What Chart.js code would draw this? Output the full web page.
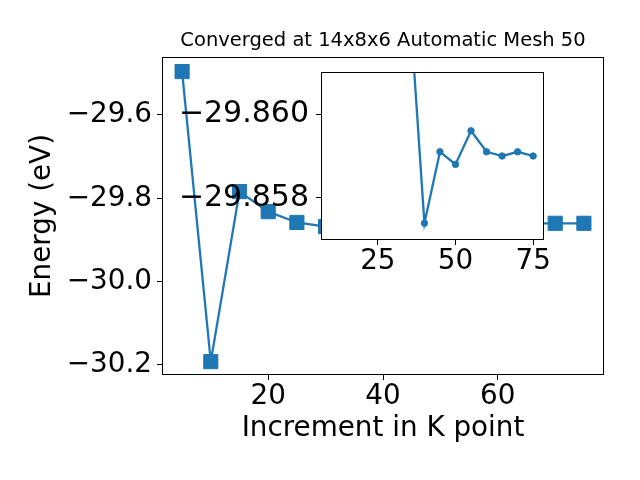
<!DOCTYPE html>
<html>
<head>
<meta charset="utf-8">
<script src="https://cdn.jsdelivr.net/npm/chart.js@4.4.1/dist/chart.umd.min.js"></script>
<style>
  body { margin: 0; background: #fff; }
  #wrap { position: relative; width: 640px; height: 480px; }
  canvas { position: absolute; left: 0; top: 0; }
  #insetChart { pointer-events: none; }
</style>
</head>
<body>
<div id="wrap">
  <canvas id="mainChart" width="640" height="480"></canvas>
  <canvas id="insetChart" width="640" height="480"></canvas>
</div>
<script>
// main series: energy per k-point increment
const kPoints = [5, 10, 15, 20, 25, 30, 35, 40, 45, 50, 55, 60, 65, 70, 75];
const energies = [-29.496, -30.192, -29.784, -29.832, -29.858, -29.868, -29.862,
                  -29.858, -29.859, -29.859, -29.860, -29.859, -29.860, -29.860, -29.860];

// zoomed inset series
const insetK = [35, 40, 45, 50, 55, 60, 65, 70, 75];
const insetEnergies = [-29.8629, -29.8574, -29.8591, -29.8588, -29.8596,
                       -29.8591, -29.8590, -29.8591, -29.8590];

// tick values
const mainXTicks = [20, 40, 60];
const mainYTicks = [-29.6, -29.8, -30.0, -30.2];
const insetXTicks = [25, 50, 75];
const insetYTicks = [-29.860, -29.858];

const blue = '#1f77b4';
const font = 'DejaVu Sans';
const minus = s => s.replace('-', '\u2212');

// box round the plot area, like matplotlib spines
const framePlugin = {
    id: 'frame',
    beforeDraw(chart, args, opts) {
        if (!opts.fill) return;
        const a = chart.chartArea;
        chart.ctx.save();
        chart.ctx.fillStyle = opts.fill;
        chart.ctx.fillRect(a.left, a.top, a.right - a.left, a.bottom - a.top);
        chart.ctx.restore();
    },
    afterDatasetsDraw(chart) {
        const a = chart.chartArea;
        const ctx = chart.ctx;
        ctx.save();
        ctx.strokeStyle = '#000';
        ctx.lineWidth = 1;
        ctx.strokeRect(Math.round(a.left) + 0.5, Math.round(a.top) + 0.5,
            Math.round(a.right - a.left) - 1, Math.round(a.bottom - a.top) - 1);
        ctx.restore();
    }
};

const tickGrid = { display: true, drawOnChartArea: false, drawTicks: true, tickLength: 5, color: '#000' };

new Chart(document.getElementById('mainChart'), {
    type: 'line',
    data: {
        datasets: [{
            data: kPoints.map((k, i) => ({ x: k, y: energies[i] })),
            borderColor: blue,
            backgroundColor: blue,
            borderWidth: 2.3,
            pointStyle: 'rect',
            pointRadius: 10,
            pointBorderWidth: 1,
            tension: 0
        }]
    },
    options: {
        responsive: false,
        animation: false,
        devicePixelRatio: 1,
        layout: { padding: { left: 0, top: 0, right: 36, bottom: 0 } },
        plugins: {
            legend: { display: false },
            tooltip: { enabled: false },
            title: {
                display: true,
                text: 'Converged at 14x8x6 Automatic Mesh 50',
                fullSize: false,
                color: '#000',
                font: { family: font, size: 19.5, weight: 'normal', lineHeight: 1 },
                padding: { top: 31, bottom: 6.5 }
            },
            frame: {}
        },
        scales: {
            x: {
                type: 'linear',
                min: 1.5,
                max: 78.5,
                afterFit: s => { s.height = 105; },
                afterBuildTicks: s => { s.ticks = mainXTicks.map(v => ({ value: v })); },
                grid: tickGrid,
                border: { display: false },
                ticks: {
                    color: '#000',
                    padding: 2.4,
                    maxRotation: 0,
                    font: { family: font, size: 27.8, lineHeight: 1 },
                    callback: v => String(v)
                },
                title: {
                    display: true,
                    text: 'Increment in K point',
                    color: '#000',
                    font: { family: font, size: 27.8, lineHeight: 1.2 },
                    padding: { top: 0, bottom: 35 }
                }
            },
            y: {
                type: 'linear',
                min: -30.224,
                max: -29.461,
                afterFit: s => { s.width = 162; },
                afterBuildTicks: s => { s.ticks = mainYTicks.map(v => ({ value: v })); },
                grid: tickGrid,
                border: { display: false },
                ticks: {
                    color: '#000',
                    padding: 5,
                    font: { family: font, size: 27.8, lineHeight: 1 },
                    callback: v => minus(v.toFixed(1))
                },
                title: {
                    display: true,
                    text: 'Energy (eV)',
                    color: '#000',
                    font: { family: font, size: 27.8, lineHeight: 1 },
                    padding: { top: 29, bottom: 0 }
                }
            }
        }
    },
    plugins: [framePlugin]
});

new Chart(document.getElementById('insetChart'), {
    type: 'line',
    data: {
        datasets: [{
            data: insetK.map((k, i) => ({ x: k, y: insetEnergies[i] })),
            borderColor: blue,
            backgroundColor: blue,
            borderWidth: 2.3,
            pointStyle: 'circle',
            pointRadius: 3.2,
            pointBorderWidth: 1,
            tension: 0,
            clip: 0
        }]
    },
    options: {
        responsive: false,
        animation: false,
        devicePixelRatio: 1,
        layout: { padding: { left: 0, top: 72, right: 96, bottom: 200 } },
        plugins: {
            legend: { display: false },
            tooltip: { enabled: false },
            title: { display: false },
            frame: { fill: '#fff' }
        },
        scales: {
            x: {
                type: 'linear',
                min: 6.7,
                max: 78.5,
                afterFit: s => { s.height = 40; },
                afterBuildTicks: s => { s.ticks = insetXTicks.map(v => ({ value: v })); },
                grid: tickGrid,
                border: { display: false },
                ticks: {
                    color: '#000',
                    padding: 2.4,
                    maxRotation: 0,
                    font: { family: font, size: 27.8, lineHeight: 1 },
                    callback: v => String(v)
                }
            },
            y: {
                type: 'linear',
                reverse: true,
                min: -29.861,
                max: -29.857,
                afterFit: s => { s.width = 321; },
                afterBuildTicks: s => { s.ticks = insetYTicks.map(v => ({ value: v })); },
                grid: tickGrid,
                border: { display: false },
                ticks: {
                    color: '#000',
                    padding: 7,
                    font: { family: font, size: 30, lineHeight: 1 },
                    callback: v => minus(v.toFixed(3))
                }
            }
        }
    },
    plugins: [framePlugin]
});
</script>
</body>
</html>
